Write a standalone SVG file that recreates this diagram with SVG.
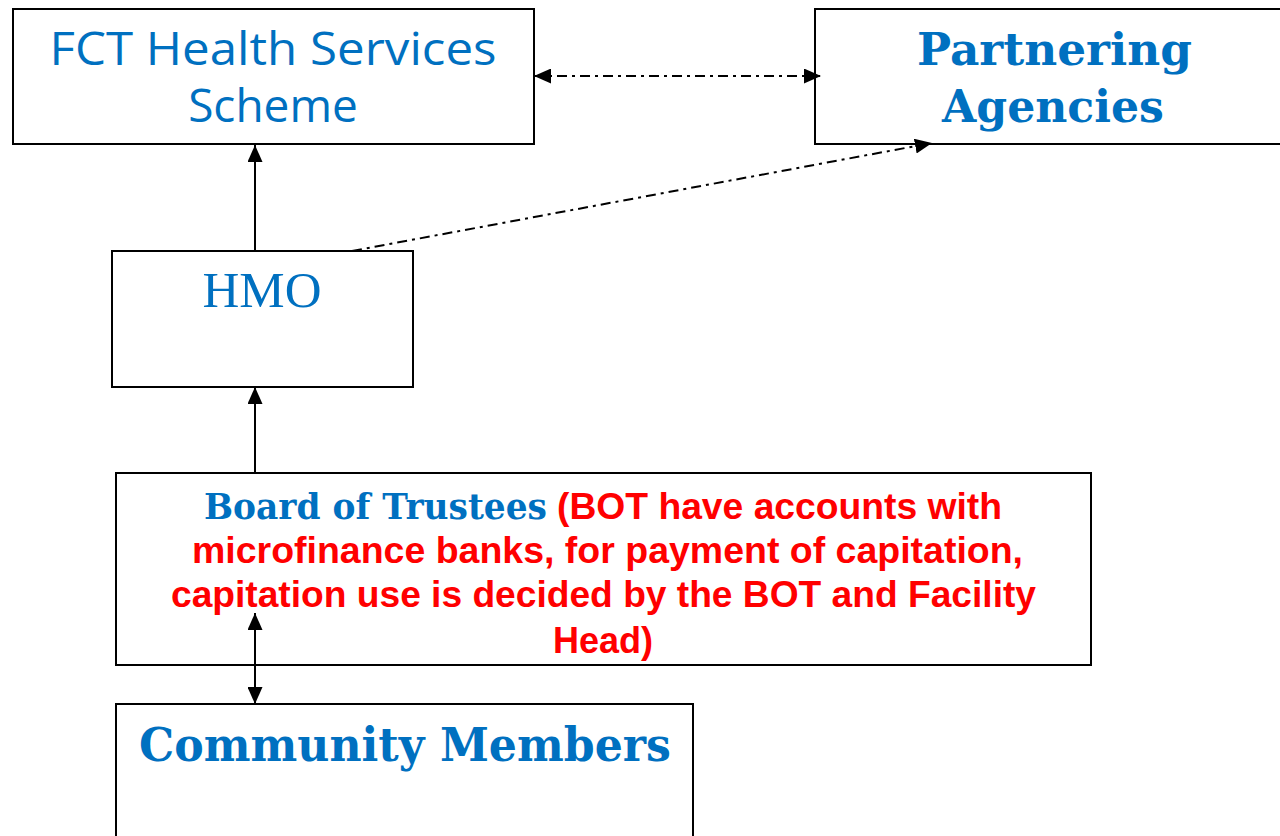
<svg xmlns="http://www.w3.org/2000/svg" width="1280" height="836" viewBox="0 0 1280 836">
  <style>
    .box { fill: #ffffff; stroke: #000000; stroke-width: 2; }
    .link { fill: none; stroke: #000000; stroke-width: 2; }
    .dashdot { stroke-dasharray: 10 5 3 5; }
    .sans { font-family: "Open Sans", "Liberation Sans", sans-serif; fill: #0070C0; }
    .serif-b { font-family: "DejaVu Serif", "Liberation Serif", serif; font-weight: bold; fill: #0070C0; }
    .serif { font-family: "Liberation Serif", "Times New Roman", serif; fill: #0070C0; }
    .note { font-family: "Liberation Sans", Arial, sans-serif; font-weight: bold; fill: #FF0000; font-size: 36px; }
  </style>
  <defs>
    <marker id="arrow" markerUnits="userSpaceOnUse" markerWidth="17" markerHeight="15" refX="17" refY="7.5" orient="auto-start-reverse">
      <path d="M0,0 L17,7.5 L0,15 Z" fill="#000000"/>
    </marker>
  </defs>

  <rect width="1280" height="836" fill="#ffffff"/>

  <!-- FCT Health Services Scheme -->
  <g id="fct">
    <rect class="box" x="13" y="9" width="521" height="135"/>
    <text class="sans" font-size="46" text-anchor="middle" x="273" y="65" textLength="447" lengthAdjust="spacingAndGlyphs">FCT Health Services</text>
    <text class="sans" font-size="46" text-anchor="middle" x="273" y="122">Scheme</text>
  </g>

  <!-- Partnering Agencies -->
  <g id="partners">
    <rect class="box" x="815" y="9" width="500" height="135"/>
    <text class="serif-b" font-size="44" x="917" y="65" textLength="275" lengthAdjust="spacingAndGlyphs">Partnering</text>
    <text class="serif-b" font-size="44" x="942" y="122" textLength="222" lengthAdjust="spacingAndGlyphs">Agencies</text>
  </g>

  <!-- HMO -->
  <g id="hmo">
    <rect class="box" x="112" y="251" width="301" height="136"/>
    <text class="serif" font-size="51" text-anchor="middle" x="262" y="307">HMO</text>
  </g>

  <!-- Board of Trustees -->
  <g id="bot">
    <rect class="box" x="116" y="473" width="975" height="192"/>
    <text class="serif-b" font-size="35" x="204" y="519" textLength="343" lengthAdjust="spacingAndGlyphs">Board of Trustees</text>
    <text class="note" x="557" y="519" textLength="445" lengthAdjust="spacingAndGlyphs">(BOT have accounts with</text>
    <text class="note" x="192" y="563" textLength="831" lengthAdjust="spacingAndGlyphs">microfinance banks, for payment of capitation,</text>
    <text class="note" x="171" y="607" textLength="865" lengthAdjust="spacingAndGlyphs">capitation use is decided by the BOT and Facility</text>
    <text class="note" x="553" y="653" textLength="100" lengthAdjust="spacingAndGlyphs">Head)</text>
  </g>

  <!-- Community Members -->
  <g id="community">
    <rect class="box" x="116" y="704" width="577" height="200"/>
    <text class="serif-b" font-size="47" x="139" y="761" textLength="532" lengthAdjust="spacingAndGlyphs">Community Members</text>
  </g>

  <!-- Connectors -->
  <g id="connectors">
    <line class="link dashdot" x1="534" y1="76" x2="821" y2="76" marker-start="url(#arrow)" marker-end="url(#arrow)"/>
    <line class="link dashdot" x1="352" y1="251" x2="932" y2="143" marker-end="url(#arrow)"/>
    <line class="link" x1="255" y1="251" x2="255" y2="145" marker-end="url(#arrow)"/>
    <line class="link" x1="255" y1="474" x2="255" y2="387" marker-end="url(#arrow)"/>
    <line class="link" x1="255" y1="613" x2="255" y2="704" marker-start="url(#arrow)" marker-end="url(#arrow)"/>
  </g>
</svg>
